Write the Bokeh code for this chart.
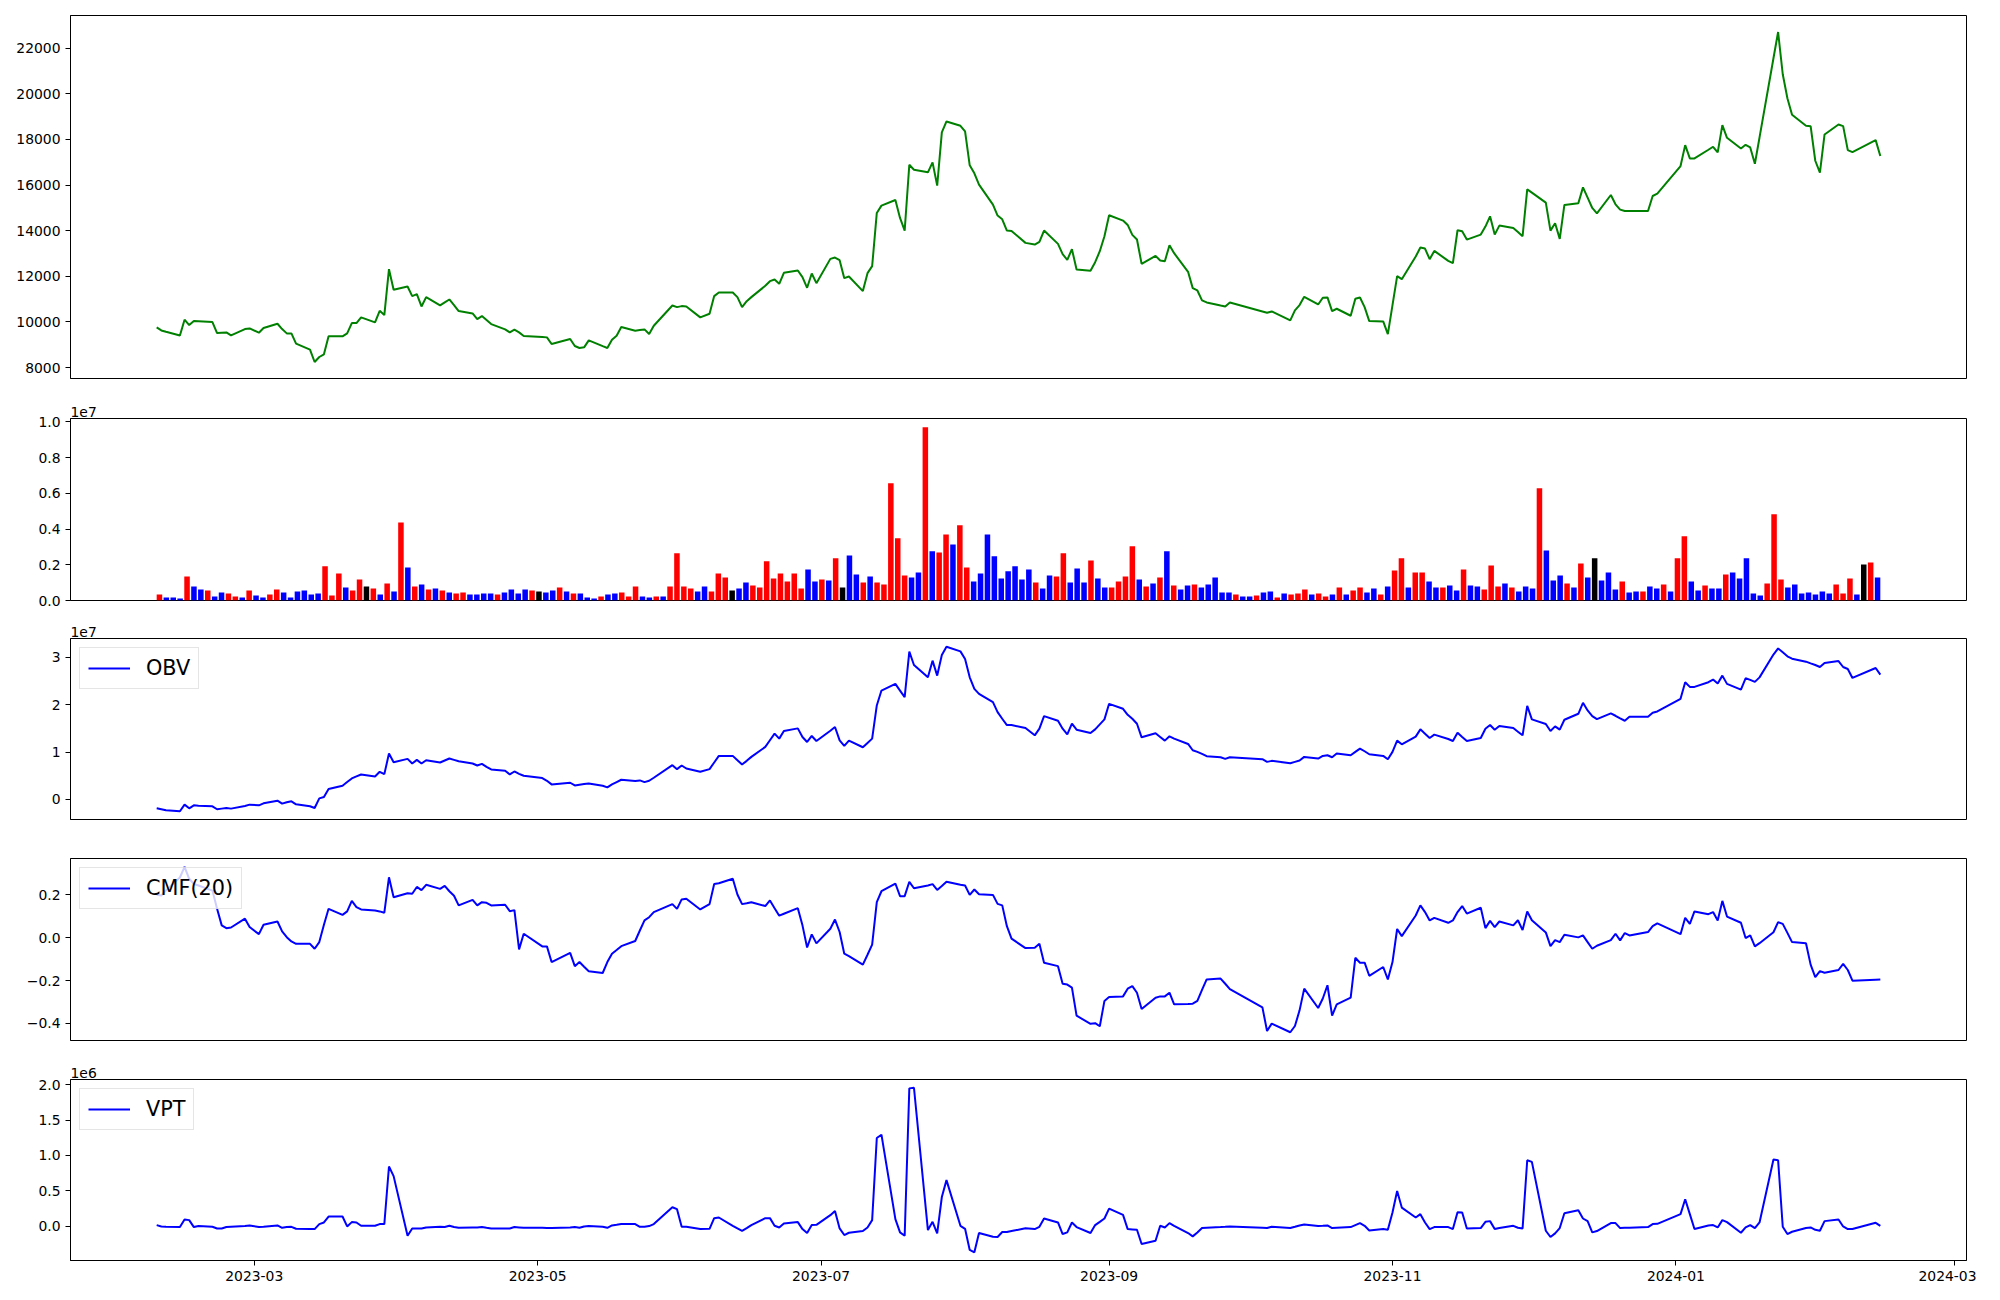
import numpy as np
import pandas as pd
from bokeh.plotting import figure
from bokeh.layouts import column
from bokeh.models import (ColumnDataSource, FixedTicker, CustomJSTickFormatter,
                          Range1d, Title)
from bokeh.embed import file_html
from bokeh.resources import INLINE

# ---------------- data ----------------
krx_holidays = ["2023-03-01", "2023-05-01", "2023-05-05", "2023-05-29", "2023-06-06",
                "2023-08-15", "2023-09-28", "2023-09-29", "2023-10-02", "2023-10-03",
                "2023-10-09", "2023-12-25", "2023-12-29", "2024-01-01", "2024-02-09",
                "2024-02-12"]
weekdays = pd.bdate_range("2023-02-08", "2024-02-14")
dates = weekdays[~weekdays.isin(pd.to_datetime(krx_holidays))]

close = [
    9760, 9630, 9570, 9410, 10100, 9865, 10040, 10030, 9996, 9515, 9530, 9544, 9413, 9690, 9719,
    9530, 9733, 9923, 9690, 9500, 9500, 9048, 8786, 8246, 8465, 8582, 9369, 9369, 9500, 9952, 9952,
    10200, 9981, 10491, 10302, 12313, 11410,
    11555, 11133, 11220, 10681, 11089, 10724, 10855, 10986, 10739, 10477, 10375, 10127, 10258, 10083,
    9908, 9675, 9544, 9661, 9544, 9384,
    9340, 9325, 9034, 9253, 8947, 8859, 8888, 9194, 8939, 8859, 9224, 9398, 9777, 9617, 9646, 9675,
    9471, 9835, 10724, 10651,
    10695, 10681, 10200, 10360, 11133, 11293, 11293, 11089, 10651, 10913, 11089, 11584, 11788, 11861,
    11672, 12153, 12255, 11963, 11497, 12124, 11701,
    12765, 12823, 12707, 11920, 11993, 11352, 12139, 12445, 14778, 15099, 15347, 14559, 14005, 16892,
    16673, 16557, 16994, 15974, 18306, 18787, 18597,
    18350, 16863, 16513, 16017, 15143, 14662, 14501, 14005, 13991, 13466, 13393, 13510, 14005, 13422,
    12970, 12722, 13189, 12299, 12241, 12620, 13101, 13757,
    14676, 14443, 14253, 13816, 13612, 12547, 12897, 12693, 12664, 13364, 13014, 12197, 11483, 11381,
    10944, 10856, 10724, 10681, 10856,
    10462, 10404, 10462, 10069, 10506, 10739, 11104, 10768, 11060, 11075, 10477, 10580, 10273, 11016,
    11074, 10651, 10039, 10025, 9471,
    10739, 12007, 11876, 12867, 13261, 13217, 12751, 13115, 12678, 12576, 14019, 13975, 13611, 13829,
    14179, 14631, 13829, 14223, 14121, 13946, 13757, 15812,
    15666, 15229, 14004, 14325, 13640, 15127, 15200, 15899, 15448, 14996, 14762, 15564, 15156, 14923,
    14864, 14864, 14864, 15520, 15622,
    16832, 17751, 17167, 17167, 17546, 17678, 17430, 18625, 18071, 17605, 17765, 17648, 16934, 18086,
    21555, 22707, 20856, 19806, 19077, 18596, 18582, 17065,
    16541, 18217, 18654, 18582, 17532, 17445, 17969, 17270,
]

volume_millions = [
    0.34, 0.17, 0.17, 0.11, 1.35, 0.79, 0.62, 0.56, 0.22, 0.45,
    0.39, 0.22, 0.17, 0.56, 0.28, 0.17, 0.34, 0.62, 0.45, 0.17,
    0.50, 0.56, 0.34, 0.39, 1.91, 0.28, 1.51, 0.73, 0.56, 1.18,
    0.79, 0.67, 0.34, 0.95, 0.50, 4.37, 1.85, 0.79, 0.90, 0.62,
    0.67, 0.56, 0.45, 0.39, 0.45, 0.34, 0.34, 0.39, 0.39, 0.34,
    0.45, 0.62, 0.39, 0.62, 0.56, 0.50, 0.45, 0.56, 0.73, 0.50,
    0.39, 0.39, 0.17, 0.11, 0.22, 0.34, 0.39, 0.45, 0.22, 0.79,
    0.22, 0.17, 0.22, 0.22, 0.79, 2.64, 0.79, 0.67, 0.50, 0.79,
    0.50, 1.51, 1.29, 0.56, 0.67, 1.01, 0.84, 0.73, 2.19, 1.23,
    1.51, 1.07, 1.51, 0.67, 1.74, 1.07, 1.18, 1.12, 2.36, 0.73,
    2.52, 1.46, 1.01, 1.35, 1.01, 0.90, 6.56, 3.48, 1.40, 1.29,
    1.57, 9.70, 2.75, 2.69, 3.70, 3.14, 4.21, 1.85, 1.07, 1.51,
    3.70, 2.47, 1.23, 1.63, 1.91, 1.18, 1.74, 1.01, 0.67, 1.40,
    1.35, 2.64, 1.01, 1.79, 1.01, 2.24, 1.23, 0.73, 0.73, 1.07,
    1.35, 3.03, 1.18, 0.79, 0.95, 1.29, 2.75, 0.84, 0.62, 0.84,
    0.90, 0.73, 0.90, 1.29, 0.45, 0.45, 0.34, 0.22, 0.22, 0.28,
    0.45, 0.50, 0.17, 0.39, 0.34, 0.39, 0.62, 0.34, 0.39, 0.22,
    0.34, 0.73, 0.34, 0.56, 0.73, 0.45, 0.67, 0.34, 0.79, 1.68,
    2.36, 0.73, 1.57, 1.57, 1.07, 0.73, 0.73, 0.84, 0.56, 1.74,
    0.84, 0.79, 0.62, 1.96, 0.79, 0.95, 0.73, 0.50, 0.79, 0.67,
    6.28, 2.80, 1.12, 1.40, 0.95, 0.73, 2.07, 1.29, 2.36, 1.12,
    1.57, 0.62, 1.07, 0.45, 0.50, 0.50, 0.79, 0.67, 0.90, 0.50,
    2.36, 3.59, 1.07, 0.56, 0.84, 0.67, 0.67, 1.46, 1.57, 1.23,
    2.36, 0.39, 0.28, 0.95, 4.82, 1.18, 0.73, 0.90, 0.39, 0.45,
    0.34, 0.50, 0.39, 0.90, 0.39, 1.23, 0.34, 2.02, 2.13, 1.29,
]

# day direction of each volume bar: r = up, b = down, k = unchanged
bar_direction = ("rbbbrbbrbb" "rrbrbbrrbb" "bbbbrrrbrr" "krbrbrbrbr" "brbrrbbbbr"
                 "bbbbrkbbrb" "rbbbrbbrrr" "bbrbrrrrbb" "rrrkbbrrrr" "rrrrbbrbrk"
                 "bbrbrrrrrb" "brbrrbrrbb" "bbbbbbbrbb" "rrbbbrbbrr" "rrbrbrbrbb"
                 "rbbbbbrbbr" "bbrbrrrbrr" "brbrrbbrbr" "rbrrbbrbbr" "bbrrrbrbbb"
                 "rbbbrbrbkb" "bbrbbrbbrb" "rrbbrbbrbb" "bbbrrrbbbb" "bbbrrrbkrb")

obv_e7 = [
    -0.188, -0.209, -0.230, -0.251, -0.111, -0.188, -0.125, -0.132, -0.146, -0.209, -0.195, -0.181,
    -0.195, -0.139, -0.111,
    -0.125, -0.083, -0.027, -0.090, -0.062, -0.041, -0.104, -0.146, -0.181, 0.022, 0.050, 0.218,
    0.288, 0.365, 0.442, 0.484, 0.526, 0.484, 0.582, 0.533, 0.967, 0.785,
    0.855, 0.757, 0.834, 0.757, 0.827, 0.778, 0.820, 0.862, 0.834, 0.806, 0.757, 0.715, 0.750, 0.687,
    0.631, 0.603, 0.526, 0.589, 0.540, 0.498,
    0.449, 0.393, 0.316, 0.351, 0.295, 0.309, 0.323, 0.337, 0.288, 0.253, 0.316, 0.365, 0.414, 0.386,
    0.400, 0.365, 0.393, 0.456, 0.722, 0.638,
    0.715, 0.652, 0.582, 0.638, 0.778, 0.918, 0.918, 0.827, 0.736, 0.813, 0.897, 1.107, 1.247, 1.387,
    1.282, 1.443, 1.499, 1.317, 1.212, 1.338, 1.233,
    1.450, 1.528, 1.247, 1.128, 1.240, 1.100, 1.191, 1.282, 1.982, 2.297, 2.437, 2.297, 2.157, 3.117,
    2.837, 2.577, 2.928, 2.613, 3.047, 3.222, 3.124,
    2.963, 2.577, 2.333, 2.228, 2.052, 1.843, 1.702, 1.569, 1.569, 1.506, 1.352, 1.492, 1.758, 1.660,
    1.492, 1.373, 1.597, 1.471, 1.401, 1.478, 1.583, 1.688,
    2.017, 1.912, 1.786, 1.702, 1.597, 1.310, 1.394, 1.317, 1.240, 1.331, 1.282, 1.170, 1.037, 1.002,
    0.960, 0.911, 0.890, 0.855, 0.890,
    0.848, 0.792, 0.813, 0.764, 0.792, 0.820, 0.897, 0.862, 0.918, 0.932, 0.890, 0.967, 0.932, 1.002,
    1.072, 1.016, 0.953, 0.918, 0.848,
    1.002, 1.240, 1.163, 1.324, 1.478, 1.387, 1.296, 1.366, 1.275, 1.233, 1.408, 1.317, 1.233, 1.296,
    1.492, 1.569, 1.471, 1.548, 1.506, 1.429, 1.352, 1.975,
    1.688, 1.590, 1.443, 1.541, 1.471, 1.681, 1.807, 2.038, 1.877, 1.758, 1.695, 1.814, 1.765, 1.709,
    1.660, 1.744, 1.744, 1.828, 1.856,
    2.122, 2.473, 2.374, 2.374, 2.473, 2.529, 2.444, 2.612, 2.438, 2.318, 2.556, 2.522, 2.480, 2.575,
    3.057, 3.187, 3.103, 3.019, 2.970, 2.907, 2.871, 2.836,
    2.794, 2.878, 2.920, 2.794, 2.752, 2.563, 2.773, 2.633,
]

cmf20 = [
    0.200, 0.196, 0.220, 0.280, 0.330, 0.274, 0.250, 0.243, 0.219, 0.134, 0.057, 0.044, 0.047, 0.088,
    0.049,
    0.016, 0.060, 0.075, 0.029, 0.002, -0.018, -0.029, -0.029, -0.052, -0.021, 0.060, 0.134, 0.106,
    0.122, 0.171, 0.142, 0.131, 0.126, 0.122, 0.116, 0.281, 0.188,
    0.207, 0.204, 0.236, 0.221, 0.246, 0.227, 0.241, 0.216, 0.195, 0.150, 0.176, 0.150, 0.165, 0.162,
    0.150, 0.153, 0.123, 0.128, -0.055, 0.018,
    -0.041, -0.041, -0.114, -0.071, -0.133, -0.114, -0.136, -0.157, -0.165, -0.114, -0.075, -0.058,
    -0.040, -0.016, 0.033, 0.080, 0.095, 0.119, 0.156, 0.134,
    0.178, 0.181, 0.131, 0.156, 0.250, 0.253, 0.274, 0.201, 0.156, 0.160, 0.165, 0.147, 0.173, 0.137,
    0.102, 0.111, 0.137, 0.057, -0.046, 0.015, -0.027,
    0.041, 0.084, 0.026, -0.075, -0.086, -0.126, -0.080, -0.033, 0.165, 0.216, 0.252, 0.193, 0.193,
    0.260, 0.230, 0.243, 0.249, 0.222, 0.240, 0.260, 0.246,
    0.243, 0.199, 0.224, 0.202, 0.199, 0.157, 0.150, 0.053, -0.005, -0.049, -0.047, -0.029, -0.117,
    -0.133, -0.215, -0.219, -0.233, -0.364, -0.402, -0.399, -0.413, -0.295,
    -0.277, -0.274, -0.238, -0.226, -0.257, -0.333, -0.280, -0.274, -0.274, -0.257, -0.311, -0.309,
    -0.308, -0.295, -0.244, -0.195, -0.191, -0.215, -0.240,
    -0.325, -0.435, -0.401, -0.441, -0.412, -0.339, -0.238, -0.328, -0.284, -0.222, -0.364, -0.311,
    -0.280, -0.094, -0.117, -0.117, -0.178, -0.137, -0.195,
    -0.114, 0.040, 0.007, 0.103, 0.150, 0.119, 0.080, 0.092, 0.069, 0.080, 0.119, 0.147, 0.112, 0.139,
    0.044, 0.078, 0.049, 0.075, 0.057, 0.081, 0.035, 0.122,
    0.081, 0.024, -0.040, -0.012, -0.021, 0.013, 0.001, 0.010, -0.021, -0.052, -0.038, -0.012, 0.018,
    -0.013, 0.021, 0.010, 0.026, 0.053, 0.066,
    0.016, 0.092, 0.064, 0.122, 0.109, 0.119, 0.080, 0.171, 0.098, 0.069, -0.002, 0.010, -0.041,
    -0.026, 0.025, 0.072, 0.064, 0.022, -0.021, -0.026, -0.126, -0.184,
    -0.156, -0.164, -0.151, -0.123, -0.151, -0.201, -0.196, -0.195,
]

vpt_e6 = [
    0.019, 0.000, -0.005, -0.009, 0.098, 0.089, -0.009, 0.005, -0.005, -0.028, -0.028, -0.009, -0.005,
    0.005, 0.014,
    -0.009, -0.005, 0.014, -0.019, -0.009, -0.005, -0.033, -0.037, -0.037, 0.033, 0.056, 0.140, 0.140,
    0.000, 0.061, 0.056, 0.009, 0.009, 0.033, 0.033, 0.845, 0.709,
    -0.131, -0.028, -0.028, -0.028, -0.014, -0.005, -0.009, 0.009, -0.009, -0.019, -0.014, -0.014,
    -0.009, -0.019, -0.028, -0.028, -0.028, -0.009, -0.014, -0.019,
    -0.019, -0.023, -0.023, -0.014, -0.009, -0.019, 0.000, 0.005, -0.005, -0.019, 0.014, 0.023, 0.033,
    0.033, -0.005, -0.005, 0.005, 0.033, 0.271, 0.243,
    -0.005, -0.005, -0.037, -0.033, 0.117, 0.126, 0.009, -0.028, -0.061, -0.023, 0.019, 0.117, 0.117,
    0.009, -0.014, 0.042, 0.061, -0.037, -0.093, 0.019, 0.023,
    0.159, 0.219, -0.028, -0.121, -0.089, -0.065, -0.014, 0.089, 1.246, 1.293, 0.103, -0.084, -0.131,
    1.946, 1.955, -0.051, 0.065, -0.098, 0.415, 0.653, 0.009,
    -0.033, -0.331, -0.364, -0.093, -0.145, -0.149, -0.079, -0.079, -0.065, -0.025, -0.037, -0.005,
    0.112, 0.056, -0.107, -0.084, 0.056, -0.009, -0.093, 0.019, 0.065, 0.112,
    0.252, 0.163, -0.037, -0.042, -0.047, -0.247, -0.201, 0.009, -0.014, 0.047, 0.009, -0.093, -0.140,
    -0.084, -0.023, -0.019, -0.009, -0.005, 0.000,
    -0.019, -0.023, -0.005, -0.023, -0.005, 0.014, 0.028, 0.005, 0.009, 0.014, -0.023, -0.019, -0.009,
    0.019, 0.047, 0.009, -0.056, -0.037, -0.047,
    0.196, 0.499, 0.266, 0.126, 0.173, 0.056, -0.037, -0.009, -0.009, -0.037, 0.201, 0.196, -0.028,
    -0.023, 0.065, 0.075, -0.037, -0.023, 0.009, -0.019, -0.028, 0.933,
    0.910, -0.061, -0.149, -0.098, -0.023, 0.187, 0.229, 0.112, 0.075, -0.084, -0.065, 0.047, 0.047,
    -0.023, -0.019, -0.019, -0.009, 0.033, 0.037,
    0.173, 0.383, 0.173, -0.037, 0.014, 0.019, -0.014, 0.089, 0.061, -0.089, -0.014, 0.019, -0.023,
    0.056, 0.943, 0.933, -0.005, -0.107, -0.075, -0.023, -0.014, -0.047,
    -0.061, 0.075, 0.098, 0.000, -0.037, -0.037, 0.051, 0.009,
]

price_tick_labels = ["8000", "10000", "12000", "14000", "16000", "18000", "20000", "22000"]
volume_tick_labels = ["0.0", "0.2", "0.4", "0.6", "0.8", "1.0"]      # x 1e7
obv_tick_labels = ["0", "1", "2", "3"]                                 # x 1e7
cmf_tick_labels = ["\u22120.4", "\u22120.2", "0.0", "0.2"]
vpt_tick_labels = ["0.0", "0.5", "1.0", "1.5", "2.0"]                  # x 1e6
x_tick_labels = ["2023-03", "2023-05", "2023-07", "2023-09", "2023-11", "2024-01", "2024-03"]

# ---------------- derived ----------------
n = min(len(dates), len(close), len(volume_millions), len(bar_direction),
        len(obv_e7), len(cmf20), len(vpt_e6))
dates = dates[:n]
color_map = {"r": "red", "b": "blue", "k": "black"}
src = ColumnDataSource(dict(
    date=dates,
    idx=np.arange(n),
    close=np.array(close[:n], dtype=float),
    volume=np.array(volume_millions[:n]) * 1e6,
    color=[color_map[c] for c in bar_direction[:n]],
    obv=np.array(obv_e7[:n]) * 1e7,
    cmf=np.array(cmf20[:n]),
    vpt=np.array(vpt_e6[:n]) * 1e6,
))


def to_num(s):
    return float(s.replace("\u2212", "-"))


def ms(ts):
    return pd.Timestamp(ts).value / 1e6


t0, t1 = ms(dates[0]), ms(dates[-1])
span = t1 - t0
x_range = Range1d(start=t0 - 0.05 * span, end=t1 + 0.05 * span)

BAR_W = 0.8
bar_lo, bar_hi = -BAR_W / 2, (n - 1) + BAR_W / 2
bar_range = Range1d(start=bar_lo - 0.05 * (bar_hi - bar_lo), end=bar_hi + 0.05 * (bar_hi - bar_lo))


def pad_range(vals):
    lo, hi = float(np.min(vals)), float(np.max(vals))
    m = 0.05 * (hi - lo)
    return Range1d(start=lo - m, end=hi + m)


FORMAT_JS = """
let best = ''; let bd = Infinity;
for (let i = 0; i < tvals.length; i++) {
  const d = Math.abs(tvals[i] - tick);
  if (d < bd) { bd = d; best = tlabels[i]; }
}
return best;
"""

FONT = "DejaVu Sans"
TICK_FS = "13.9px"


def make_fig(frame_h, top, bottom, y_range, xr=x_range, xtype="datetime"):
    p = figure(frame_width=1896, frame_height=frame_h, x_range=xr, y_range=y_range,
               x_axis_type=xtype, output_backend="svg", toolbar_location=None,
               min_border_left=70, min_border_right=10, min_border_top=top,
               min_border_bottom=bottom)
    p.outline_line_color = "black"
    p.outline_line_width = 1
    p.outline_line_alpha = 1
    p.xgrid.visible = False
    p.ygrid.visible = False
    p.background_fill_color = "white"
    p.border_fill_color = "white"
    for ax in (p.xaxis[0], p.yaxis[0]):
        ax.axis_line_color = "black"
        ax.major_tick_line_color = "black"
        ax.major_tick_in = 0
        ax.major_tick_out = 5
        ax.minor_tick_line_color = None
        ax.major_label_text_font = FONT
        ax.major_label_text_font_size = TICK_FS
        ax.major_label_text_color = "black"
        ax.major_label_standoff = 5
    return p


def set_y_ticks(p, labels, scale):
    vals = [to_num(s) * scale for s in labels]
    p.yaxis[0].ticker = FixedTicker(ticks=vals)
    p.yaxis[0].formatter = CustomJSTickFormatter(args=dict(tvals=vals, tlabels=labels),
                                                 code=FORMAT_JS)


def offset_label(p, text):
    p.add_layout(Title(text=text, align="left", text_font=FONT, text_font_size=TICK_FS,
                       text_font_style="normal", text_color="black", standoff=4), "above")


def style_legend(p):
    lg = p.legend[0]
    lg.location = "top_left"
    lg.label_text_font = FONT
    lg.label_text_font_size = "20.8px"
    lg.label_text_color = "black"
    lg.glyph_width = 42
    lg.glyph_height = 20
    lg.label_standoff = 16
    lg.padding = 8
    lg.margin = 9
    lg.border_line_color = "#cccccc"
    lg.border_line_width = 1
    lg.background_fill_alpha = 0.8


# 1: price
p1 = make_fig(363, 15, 17, pad_range(src.data["close"]))
p1.line("date", "close", source=src, line_color="green", line_width=2)
p1.xaxis.visible = False
set_y_ticks(p1, price_tick_labels, 1)

# 2: volume (bars drawn at evenly spaced positions)
vmax = float(np.max(src.data["volume"]))
p2 = make_fig(182, 23, 16, Range1d(start=0, end=vmax * 1.05), xr=bar_range, xtype="linear")
p2.vbar(x="idx", top="volume", bottom=0, width=BAR_W, source=src,
        fill_color="color", line_color=None)
p2.xaxis.visible = False
set_y_ticks(p2, volume_tick_labels, 1e7)
offset_label(p2, "1e7")

# 3: OBV
p3 = make_fig(181, 22, 20, pad_range(src.data["obv"]))
p3.line("date", "obv", source=src, line_color="blue", line_width=2, legend_label="OBV")
p3.xaxis.visible = False
set_y_ticks(p3, obv_tick_labels, 1e7)
offset_label(p3, "1e7")
style_legend(p3)

# 4: CMF
p4 = make_fig(182, 19, 17, pad_range(src.data["cmf"]))
p4.line("date", "cmf", source=src, line_color="blue", line_width=2, legend_label="CMF(20)")
p4.xaxis.visible = False
set_y_ticks(p4, cmf_tick_labels, 1)
style_legend(p4)

# 5: VPT
p5 = make_fig(181, 22, 28, pad_range(src.data["vpt"]))
p5.line("date", "vpt", source=src, line_color="blue", line_width=2, legend_label="VPT")
set_y_ticks(p5, vpt_tick_labels, 1e6)
offset_label(p5, "1e6")
style_legend(p5)
x_vals = [ms(s + "-01") for s in x_tick_labels]
p5.xaxis[0].ticker = FixedTicker(ticks=x_vals)
p5.xaxis[0].formatter = CustomJSTickFormatter(args=dict(tvals=x_vals, tlabels=x_tick_labels),
                                              code=FORMAT_JS)

layout = column(p1, p2, p3, p4, p5, spacing=0)
open("out.html", "w").write(file_html(layout, INLINE))
